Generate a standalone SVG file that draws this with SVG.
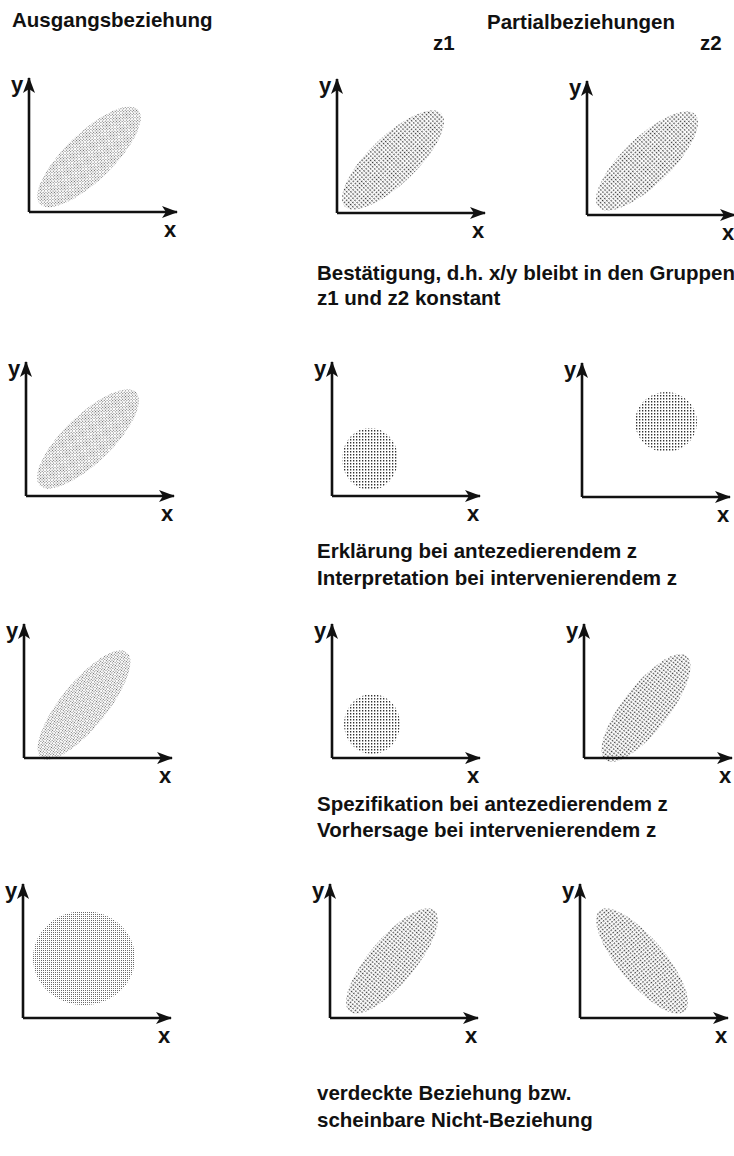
<svg xmlns="http://www.w3.org/2000/svg" width="734" height="1156" viewBox="0 0 734 1156">
<style>
text{font-family:"Liberation Sans",Arial,sans-serif;font-size:20.5px;font-weight:bold;fill:#111}
text.lbl{font-size:22px}
.ax{stroke:#111;stroke-width:2.6;fill:none}
.fine{fill:url(#fine)}
.coarse{fill:url(#coarse)}
</style>
<defs>
<pattern id="fine" width="2" height="2" patternUnits="userSpaceOnUse">
<rect width="2" height="2" fill="#fff"/>
<rect width="1" height="1" fill="#6a6a6a"/>
</pattern>
<pattern id="coarse" width="3" height="3" patternUnits="userSpaceOnUse">
<rect width="3" height="3" fill="#fff"/>
<rect width="1.3" height="1.5" fill="#333"/>
</pattern>
<marker id="ah" viewBox="0 0 16 12" refX="15" refY="6" markerWidth="16" markerHeight="12" markerUnits="userSpaceOnUse" orient="auto">
<path d="M0,0 L16,6 L0,12 L4,6 Z" fill="#111"/>
</marker>
<g id="axes">
<path class="ax" d="M0,0 V-134" marker-end="url(#ah)"/>
<path class="ax" d="M0,0 H148" marker-end="url(#ah)"/>
<text class="lbl" x="-18" y="-120">y</text>
<text class="lbl" x="135" y="25">x</text>
</g>
</defs>

<g id="header">
<text x="12" y="27">Ausgangsbeziehung</text>
<text x="487" y="29">Partialbeziehungen</text>
<text x="433" y="50">z1</text>
<text x="700" y="50">z2</text>
</g>

<g id="row1">
<g id="r1-orig" transform="translate(29,212)">
<ellipse class="fine" cx="60" cy="-55" rx="68" ry="24" transform="rotate(-44 60 -55)"/>
<use href="#axes"/>
</g>
<g id="r1-z1" transform="translate(337,213)">
<ellipse class="coarse" cx="56" cy="-53" rx="67" ry="24" transform="rotate(-44 56 -53)"/>
<use href="#axes"/>
</g>
<g id="r1-z2" transform="translate(587,215)">
<ellipse class="coarse" cx="60" cy="-54" rx="67" ry="24" transform="rotate(-44 60 -54)"/>
<use href="#axes"/>
</g>
<text x="317" y="280">Bestätigung, d.h. x/y bleibt in den Gruppen</text>
<text x="317" y="305">z1 und z2 konstant</text>
</g>

<g id="row2">
<g id="r2-orig" transform="translate(26,496)">
<ellipse class="fine" cx="62" cy="-57" rx="67" ry="24" transform="rotate(-44 62 -57)"/>
<use href="#axes"/>
</g>
<g id="r2-z1" transform="translate(332,496)">
<ellipse class="coarse" cx="38" cy="-37" rx="28" ry="31"/>
<use href="#axes"/>
</g>
<g id="r2-z2" transform="translate(582,497)">
<ellipse class="coarse" cx="84" cy="-75" rx="31" ry="30"/>
<use href="#axes"/>
</g>
<text x="317" y="558">Erklärung bei antezedierendem z</text>
<text x="317" y="585">Interpretation bei intervenierendem z</text>
</g>

<g id="row3">
<g id="r3-orig" transform="translate(24,758)">
<ellipse class="fine" cx="60" cy="-53" rx="68" ry="23" transform="rotate(-51 60 -53)"/>
<use href="#axes"/>
</g>
<g id="r3-z1" transform="translate(332,758)">
<ellipse class="coarse" cx="40" cy="-34" rx="28" ry="30"/>
<use href="#axes"/>
</g>
<g id="r3-z2" transform="translate(584,758)">
<ellipse class="coarse" cx="62" cy="-50" rx="66" ry="23" transform="rotate(-52 62 -50)"/>
<use href="#axes"/>
</g>
<text x="317" y="811">Spezifikation bei antezedierendem z</text>
<text x="317" y="837">Vorhersage bei intervenierendem z</text>
</g>

<g id="row4">
<g id="r4-orig" transform="translate(23,1018)">
<ellipse class="fine" cx="61" cy="-60" rx="51" ry="47"/>
<use href="#axes"/>
</g>
<g id="r4-z1" transform="translate(330,1018)">
<ellipse class="coarse" cx="62" cy="-57" rx="66" ry="23" transform="rotate(-50 62 -57)"/>
<use href="#axes"/>
</g>
<g id="r4-z2" transform="translate(580,1018)">
<ellipse class="coarse" cx="62" cy="-57" rx="66" ry="23" transform="rotate(50 62 -57)"/>
<use href="#axes"/>
</g>
<text x="317" y="1100">verdeckte Beziehung bzw.</text>
<text x="317" y="1127">scheinbare Nicht-Beziehung</text>
</g>
</svg>
